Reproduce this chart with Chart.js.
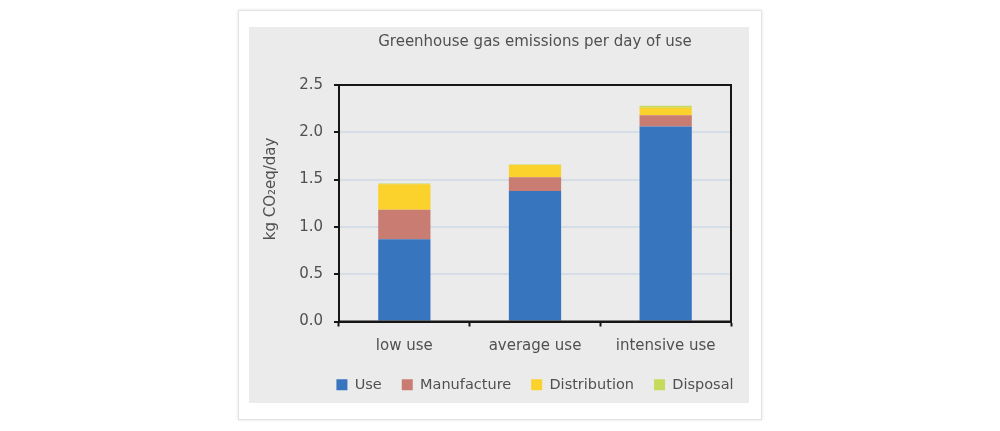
<!DOCTYPE html>
<html>
<head>
<meta charset="utf-8">
<script src="https://cdn.jsdelivr.net/npm/chart.js@4/dist/chart.umd.min.js"></script>
<style>
  html, body { margin: 0; padding: 0; background: #fff; }
  body { width: 1000px; height: 431px; position: relative; overflow: hidden; }
  .card {
    position: absolute; left: 238px; top: 10px; width: 524px; height: 410px;
    background: #fff; border: 1px solid #e2e2e2; box-shadow: 0 0 3px rgba(0,0,0,0.12);
    box-sizing: border-box;
  }
  .panel {
    position: absolute; left: 249px; top: 27px; width: 500px; height: 376px;
    background: #ebebeb;
  }
  #chart { display: block; }
</style>
</head>
<body>
<div class="card"></div>
<div class="panel"><canvas id="chart" width="500" height="376"></canvas></div>
<script>
// ----------- DATA -----------
const categories = ['low use', 'average use', 'intensive use'];
const useValues = [0.87, 1.38, 2.06];
const manufactureValues = [0.31, 0.145, 0.12];
const distributionValues = [0.27, 0.13, 0.08];
const disposalValues = [0.01, 0.005, 0.02];
const yTicks = [0, 0.5, 1.0, 1.5, 2.0, 2.5];

const FONT = '"DejaVu Sans", "Liberation Sans", sans-serif';
const TEXT = '#505050';
const AXIS = '#161616';

// frame around the plot area (top/right edges too)
const framePlugin = {
  id: 'frame',
  afterDatasetsDraw(chart) {
    const { ctx, chartArea: a } = chart;
    ctx.save();
    ctx.strokeStyle = AXIS;
    ctx.lineWidth = 2;
    ctx.strokeRect(a.left, a.top, a.right - a.left, a.bottom - a.top);
    ctx.restore();
  }
};

// center the legend under the plot area instead of the whole canvas
const legendShift = {
  id: 'legendShift',
  afterLayout(chart) {
    const lg = chart.legend, a = chart.chartArea;
    if (!lg) return;
    const dx = (a.left + a.right) / 2 - (lg.left + lg.right) / 2;
    lg.left += dx;
    lg.right += dx;
    lg.top += 1;
    lg.bottom += 1;
  }
};

function ds(label, data, color) {
  return { label, data, backgroundColor: color, borderWidth: 0, barPercentage: 0.8, categoryPercentage: 0.5 };
}

new Chart(document.getElementById('chart'), {
  type: 'bar',
  data: {
    labels: categories,
    datasets: [
      ds('Use', useValues, '#3875bf'),
      ds('Manufacture', manufactureValues, '#c97d72'),
      ds('Distribution', distributionValues, '#fbd22c'),
      ds('Disposal', disposalValues, '#c6da5c'),
    ],
  },
  options: {
    responsive: false,
    animation: false,
    layout: { padding: { left: 0, right: 18, top: 0, bottom: 2 } },
    plugins: {
      title: {
        display: true,
        fullSize: false,
        text: 'Greenhouse gas emissions per day of use',
        color: TEXT,
        font: { family: FONT, size: 15, weight: 'normal' },
        padding: { top: 6, bottom: 34 },
      },
      legend: {
        position: 'bottom',
        labels: {
          color: TEXT,
          font: { family: FONT, size: 14.5 },
          boxWidth: 11, boxHeight: 11,
          padding: 20,
        },
      },
      tooltip: { enabled: false },
    },
    scales: {
      x: {
        stacked: true,
        afterFit(axis) { axis.height = 35; },
        grid: { display: true, drawOnChartArea: false, drawTicks: true, offset: true, tickLength: 5, tickColor: AXIS, tickWidth: 2 },
        border: { display: true, color: AXIS, width: 2 },
        ticks: { color: TEXT, font: { family: FONT, size: 15 }, padding: 11 },
      },
      y: {
        stacked: true,
        min: 0, max: 2.5,
        afterBuildTicks(axis) { axis.ticks = yTicks.map(v => ({ value: v })); },
        afterFit(axis) { axis.width = 90; },
        grid: { color: '#d5dde7', lineWidth: 2, tickLength: 5, tickColor: AXIS, tickWidth: 2 },
        border: { display: true, color: AXIS, width: 2 },
        ticks: { color: TEXT, font: { family: FONT, size: 15 }, padding: 11, callback: v => v.toFixed(1) },
        title: {
          display: true,
          text: '\u00a0\u00a0\u00a0\u00a0\u00a0\u00a0kg CO\u2082eq/day',
          color: TEXT, font: { family: FONT, size: 15 },
          padding: { top: 13, bottom: 0 },
        },
      },
    },
  },
  plugins: [framePlugin, legendShift],
});
</script>
</body>
</html>
